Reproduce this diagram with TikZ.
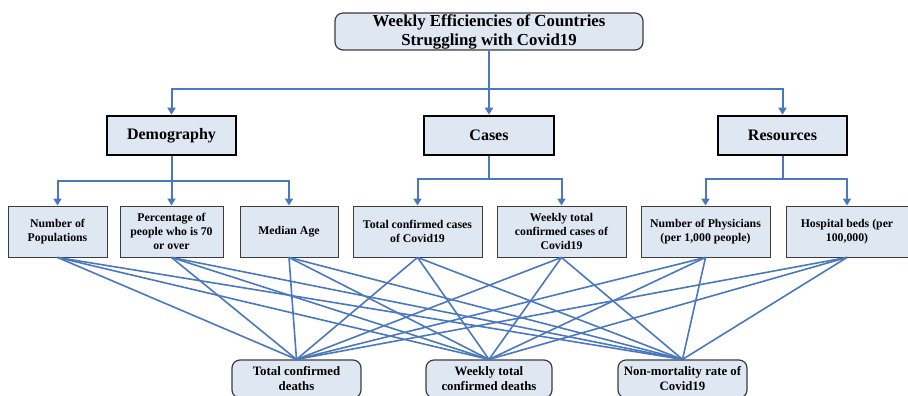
\documentclass[tikz,border=0pt]{standalone}
\usepackage{fontspec}
\setmainfont{Liberation Serif}
\usepackage{tikz}
\usetikzlibrary{arrows.meta}

\definecolor{linkblue}{HTML}{4A78C0}
\definecolor{boxfill}{HTML}{DFE7F3}
\definecolor{boxline}{HTML}{3C3C3C}

\tikzset{
	goalbox/.style={draw=boxline, fill=boxfill, rounded corners=8pt, line width=1.2pt,
		align=center, inner sep=0pt, font=\bfseries\fontsize{16.8}{19}\selectfont},
	groupbox/.style={draw=black, fill=boxfill, line width=2.6pt, align=center,
		inner sep=0pt, minimum height=39pt, font=\bfseries\fontsize{16}{19}\selectfont},
	itembox/.style={draw=boxline, fill=boxfill, line width=0.9pt, align=center,
		inner sep=0pt, minimum height=51pt, font=\bfseries\fontsize{11.8}{14.3}\selectfont},
	outbox/.style={draw=boxline, fill=boxfill, rounded corners=8pt, line width=1.2pt,
		align=center, inner sep=0pt, minimum height=38pt, font=\bfseries\fontsize{12.8}{15}\selectfont},
	tree/.style={draw=linkblue, line width=2pt},
	treearr/.style={tree, -{Triangle[length=7pt,width=8pt]}},
	mesh/.style={draw=linkblue, line width=1.6pt}
}

\begin{document}
\begin{tikzpicture}[x=1pt, y=-1pt]
		\useasboundingbox (0,0) rectangle (908,396);
		% goal
		\node[goalbox, minimum width=308pt, minimum height=37pt] (goal) at (489, 31.5)
			{Weekly Efficiencies of Countries\\Struggling with Covid19};
		% criteria groups
		\node[groupbox, minimum width=129pt] (demo) at (171.5, 135.5) {Demography};
		\node[groupbox, minimum width=130pt] (cases) at (489, 135.5) {Cases};
		\node[groupbox, minimum width=129pt] (res) at (782.5, 135.5) {Resources};
		% inputs
		\node[itembox, minimum width=99pt] (pop) at (57.5, 231.5) {Number of\\Populations};
		\node[itembox, minimum width=103pt] (old) at (171.5, 231.5) {Percentage of\\people who is 70\\or over};
		\node[itembox, minimum width=98pt] (age) at (289, 231.5) {Median Age};
		\node[itembox, minimum width=129pt] (tcc) at (417.5, 231.5) {Total confirmed cases\\of Covid19};
		\node[itembox, minimum width=129pt] (wtc) at (561.5, 231.5) {Weekly total\\confirmed cases of\\Covid19};
		\node[itembox, minimum width=129pt] (phys) at (705.5, 231.5) {Number of Physicians\\(per 1,000 people)};
		\node[itembox, minimum width=122pt] (beds) at (847, 231.5) {Hospital beds (per\\100,000)};
		% outputs
		\node[outbox, minimum width=129pt] (tcd) at (296.5, 379) {Total confirmed\\deaths};
		\node[outbox, minimum width=126pt] (wtd) at (489, 379) {Weekly total\\confirmed deaths};
		\node[outbox, minimum width=129pt] (nmr) at (682.5, 379) {Non-mortality rate of\\Covid19};

		% tree links
		\coordinate (goalbus) at (489, 89);
		\coordinate (demobus) at (171.5, 181);
		\coordinate (casesbus) at (489, 179);
		\coordinate (resbus) at (782.5, 179);
		\draw[tree] (goal.south) -- (goalbus);
		\draw[treearr] (goalbus) -| (demo.north);
		\draw[treearr] (goalbus) -- (cases.north);
		\draw[treearr] (goalbus) -| (res.north);
		\draw[tree] (demo.south) -- (demobus);
		\draw[treearr] (demobus) -| (pop.north);
		\draw[treearr] (demobus) -- (old.north);
		\draw[treearr] (demobus) -| (age.north);
		\draw[tree] (cases.south) -- (casesbus);
		\draw[treearr] (casesbus) -| (tcc.north);
		\draw[treearr] (casesbus) -| (wtc.north);
		\draw[tree] (res.south) -- (resbus);
		\draw[treearr] (resbus) -| (phys.north);
		\draw[treearr] (resbus) -| (beds.north);

		% inputs to outputs
		\foreach \src in {pop,old,age,tcc,wtc,phys,beds}
			\foreach \dst in {tcd,wtd,nmr}
				\draw[mesh] (\src.south) -- (\dst.north);
	\end{tikzpicture}
\end{document}
